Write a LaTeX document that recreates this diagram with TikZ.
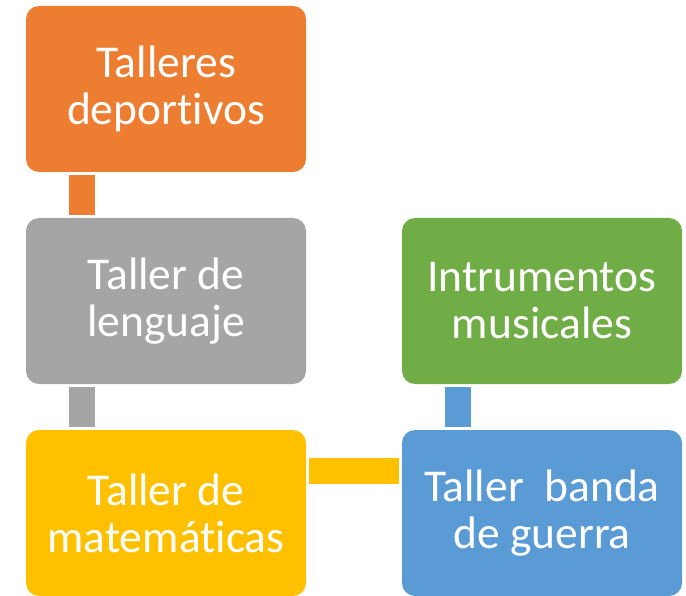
\documentclass[tikz,border=0pt]{standalone}
\usepackage{fontspec}
\setmainfont{Carlito}[Ligatures=NoCommon]
\usetikzlibrary{positioning}
\definecolor{naranja}{HTML}{ED7D31}
\definecolor{gris}{HTML}{A5A5A5}
\definecolor{amarillo}{HTML}{FFC000}
\definecolor{verde}{HTML}{70AD47}
\definecolor{azul}{HTML}{5B9BD5}

\begin{document}
\begin{tikzpicture}[x=1pt, y=1pt,
  caja/.style={rounded corners=13pt, minimum width=280pt, minimum height=166pt,
    inner sep=0pt, align=center, text=white, font=\fontsize{45.5}{47}\selectfont},
  barra/.style={line width=26pt}]

\useasboundingbox (0,0) rectangle (686,-596);

\node[caja, fill=naranja] (deportivos) at (166,-89) {Talleres\\deportivos};
\node[caja, fill=gris] (lenguaje) at (166,-301) {Taller de\\lenguaje};
\node[caja, fill=amarillo] (mate) at (166,-513) {Taller de\\matemáticas};
\node[caja, fill=verde] (musica) at (542,-301) {Intrumentos\\musicales};
\node[caja, fill=azul] (banda) at (542,-513) {Taller\ \ banda\\de guerra};

\draw[barra, naranja] ([xshift=-84pt,yshift=-3pt]deportivos.south) -- ([xshift=-84pt,yshift=3pt]lenguaje.north);
\draw[barra, gris] ([xshift=-84pt,yshift=-3pt]lenguaje.south) -- ([xshift=-84pt,yshift=3pt]mate.north);
\draw[barra, amarillo] ([xshift=3pt,yshift=42pt]mate.east) -- ([xshift=-3pt,yshift=42pt]banda.west);
\draw[barra, azul] ([xshift=-84pt,yshift=-3pt]musica.south) -- ([xshift=-84pt,yshift=3pt]banda.north);

\end{tikzpicture}
\end{document}
